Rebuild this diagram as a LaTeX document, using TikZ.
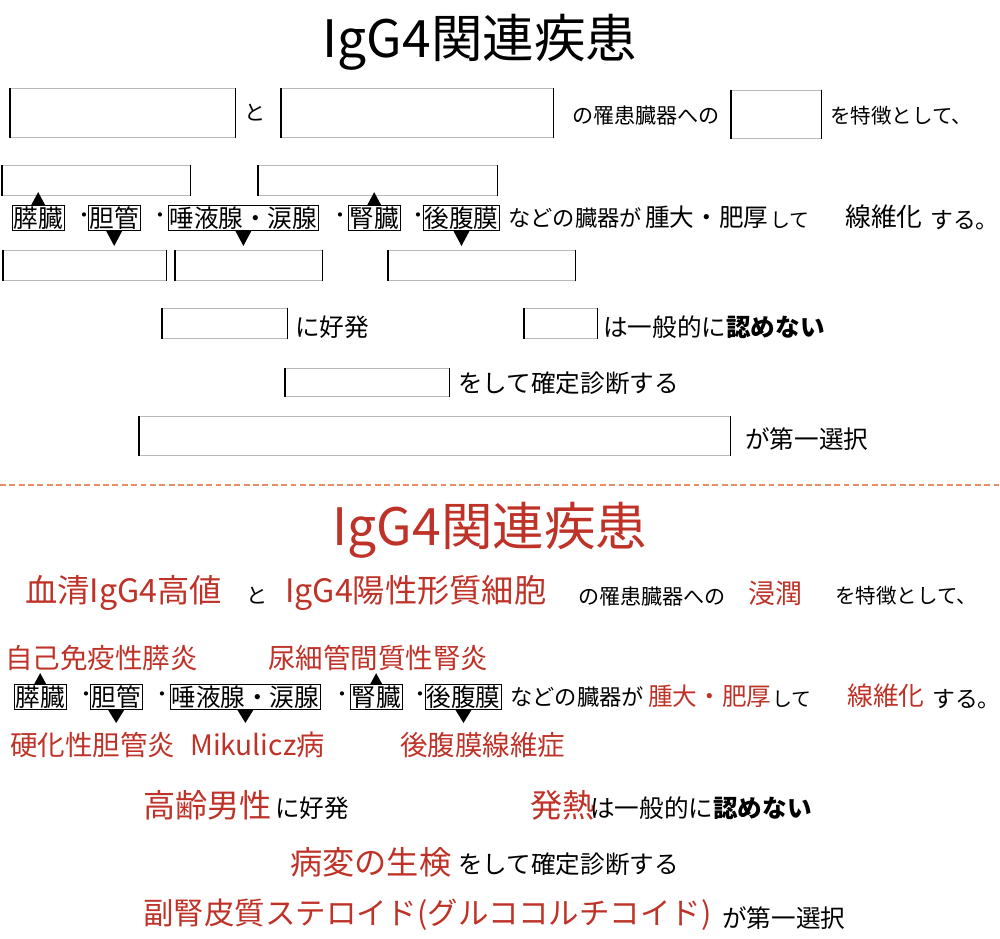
\documentclass[tikz,border=0pt]{standalone}
\usepackage{fontspec}
\setmainfont{Noto Sans CJK JP}
\usetikzlibrary{calc}
\definecolor{Brick}{RGB}{190,50,40}
\definecolor{Peach}{RGB}{232,140,100}
\newcommand{\px}[1]{\fontsize{#1pt}{#1pt}\selectfont}

\tikzset{
  blank/.style={draw=gray!55, line width=0.6pt, anchor=north west, inner sep=0pt,
    append after command={(\tikzlastnode.north west) edge[black, line width=1.2pt] (\tikzlastnode.south west)
      (\tikzlastnode.north east) edge[black, line width=1.2pt] (\tikzlastnode.south east)}},
  txt/.style={anchor=west, inner sep=0pt, font=\px{18}},
  big/.style={anchor=west, inner sep=0pt, font=\px{21}},
  ans/.style={anchor=west, inner sep=0pt, text=Brick, font=\px{27.5}},
  organ/.style={draw, line width=0.7pt, anchor=west, inner sep=1pt, font=\px{21}},
  dot/.style={anchor=west, inner sep=0pt, font=\px{17}},
}

\begin{document}
\begin{tikzpicture}[x=0.03cm, y=-0.03cm]
    \useasboundingbox (0,0) rectangle (1000,938);

    % Question half
    \node[font=\px{44}] (qtitle) at (480,42) {IgG4関連疾患};

    \node[blank, text width=6.75cm, minimum height=1.47cm] (qa) at (10,88) {};
    \node[txt] (qto) at (244,113) {と};
    \node[blank, text width=8.16cm, minimum height=1.47cm] (qb) at (281,88) {};
    \node[txt] (qorg) at (572,116) {の罹患臓器への};
    \node[blank, text width=2.7cm, minimum height=1.44cm] (qc) at (731,90) {};
    \node[txt, font=\px{17.5}] (qfeat) at (830,116) {を特徴として、};

    \node[blank, text width=5.64cm, minimum height=0.9cm] (qu1) at (2,165) {};
    \node[blank, text width=7.17cm, minimum height=0.9cm] (qu2) at (258,165) {};

    \node[organ] (qp) at (12,218) {膵臓};
    \node[dot] (qd1) at (74,218) {・};
    \node[organ] (qbd) at (88,218) {胆管};
    \node[dot] (qd2) at (150,218) {・};
    \node[organ] (qsg) at (168,218) {唾液腺・涙腺};
    \node[dot] (qd3) at (330,218) {・};
    \node[organ] (qk) at (348,218) {腎臓};
    \node[dot] (qd4) at (408,218) {・};
    \node[organ] (qr) at (423,218) {後腹膜};
    \node[txt, font=\px{19}] (qetc) at (508,218) {などの臓器が};
    \node[big] (qsw) at (645,217) {腫大・肥厚};
    \node[txt, font=\px{17}] (qsh) at (770,220) {して};
    \node[big, font=\px{22}] (qfib) at (845,217) {線維化};
    \node[txt, font=\px{19.5}] (qsuru) at (930,220) {する。};

    \node[blank, text width=4.89cm, minimum height=0.9cm] (ql1) at (3,250) {};
    \node[blank, text width=4.41cm, minimum height=0.9cm] (ql2) at (175,250) {};
    \node[blank, text width=5.61cm, minimum height=0.9cm] (ql3) at (388,250) {};

    \fill ($(qp.north)+(-7,0)$) -- ($(qp.north)+(7,0)$) -- ($(qp.north)+(0,-13)$) -- cycle;
    \fill ($(qbd.south)+(-8,0)$) -- ($(qbd.south)+(8,0)$) -- ($(qbd.south)+(0,15)$) -- cycle;
    \fill ($(qsg.south)+(-8,0)$) -- ($(qsg.south)+(8,0)$) -- ($(qsg.south)+(0,15)$) -- cycle;
    \fill ($(qk.north)+(-7,0)$) -- ($(qk.north)+(7,0)$) -- ($(qk.north)+(0,-13)$) -- cycle;
    \fill ($(qr.south)+(-8,0)$) -- ($(qr.south)+(8,0)$) -- ($(qr.south)+(0,15)$) -- cycle;

    \node[blank, text width=3.75cm, minimum height=0.9cm] (qm) at (162,308) {};
    \node[big] (qonset) at (295,327) {に好発};
    \node[blank, text width=2.19cm, minimum height=0.9cm] (qfv) at (524,308) {};
    \node[big] (qnot) at (603,327) {は一般的に\textbf{認めない}};
    \node[blank, text width=4.92cm, minimum height=0.84cm] (qbx) at (285,368) {};
    \node[big] (qdiag) at (458,383) {をして確定診断する};
    \node[blank, text width=17.73cm, minimum height=1.17cm] (qst) at (139,416) {};
    \node[big] (qfirst) at (745,439) {が第一選択};

    % Divider
    \coordinate (dl) at (0,485);
    \coordinate (dr) at (1000,485);
    \draw[Peach, line width=1.3pt, dash pattern=on 5pt off 3pt] (dl) -- (dr);

    % Answer half
    \node[font=\px{44}, text=Brick] (atitle) at (490,530) {IgG4関連疾患};

    \node[ans] (aa) at (25,593) {血清IgG4高値};
    \node[txt] (ato) at (246,596) {と};
    \node[ans] (ab) at (285,593) {IgG4陽性形質細胞};
    \node[txt] (aorg) at (578,596) {の罹患臓器への};
    \node[ans, font=\px{23}] (ac) at (748,593) {浸潤};
    \node[txt, font=\px{17.5}] (afeat) at (835,596) {を特徴として、};

    \node[ans, font=\px{23.5}] (au1) at (5,658) {自己免疫性膵炎};
    \node[ans, font=\px{23.5}] (au2) at (268,658) {尿細管間質性腎炎};

    \node[organ] (ap) at (14,697) {膵臓};
    \node[dot] (ad1) at (76,697) {・};
    \node[organ] (abd) at (90,697) {胆管};
    \node[dot] (ad2) at (152,697) {・};
    \node[organ] (asg) at (170,697) {唾液腺・涙腺};
    \node[dot] (ad3) at (332,697) {・};
    \node[organ] (ak) at (350,697) {腎臓};
    \node[dot] (ad4) at (410,697) {・};
    \node[organ] (ar) at (425,697) {後腹膜};
    \node[txt, font=\px{19}] (aetc) at (510,697) {などの臓器が};
    \node[ans, font=\px{21}] (asw) at (648,696) {腫大・肥厚};
    \node[txt, font=\px{17}] (ash) at (772,699) {して};
    \node[ans, font=\px{22}] (afib) at (847,696) {線維化};
    \node[txt, font=\px{19.5}] (asuru) at (932,699) {する。};

    \node[ans, font=\px{23.5}] (al1) at (10,745) {硬化性胆管炎};
    \node[ans, font=\px{24}] (al2) at (190,745) {Mikulicz病};
    \node[ans, font=\px{23.5}] (al3) at (400,745) {後腹膜線維症};

    \fill ($(ap.north)+(-6,0)$) -- ($(ap.north)+(6,0)$) -- ($(ap.north)+(0,-11)$) -- cycle;
    \fill ($(abd.south)+(-8,0)$) -- ($(abd.south)+(8,0)$) -- ($(abd.south)+(0,13)$) -- cycle;
    \fill ($(asg.south)+(-8,0)$) -- ($(asg.south)+(8,0)$) -- ($(asg.south)+(0,13)$) -- cycle;
    \fill ($(ak.north)+(-6,0)$) -- ($(ak.north)+(6,0)$) -- ($(ak.north)+(0,-11)$) -- cycle;
    \fill ($(ar.south)+(-8,0)$) -- ($(ar.south)+(8,0)$) -- ($(ar.south)+(0,13)$) -- cycle;

    \node[ans] (am) at (143,805) {高齢男性};
    \node[big] (aonset) at (275,808) {に好発};
    \node[ans] (afv) at (530,805) {発熱};
    \node[big] (anot) at (590,808) {は一般的に\textbf{認めない}};
    \node[ans] (abx) at (290,862) {病変の生検};
    \node[big] (adiag) at (458,864) {をして確定診断する};
    \node[ans, font=\px{26}] (ast) at (143,915) {副腎皮質ステロイド(グルココルチコイド)};
    \node[big] (afirst) at (722,918) {が第一選択};
\end{tikzpicture}
\end{document}
